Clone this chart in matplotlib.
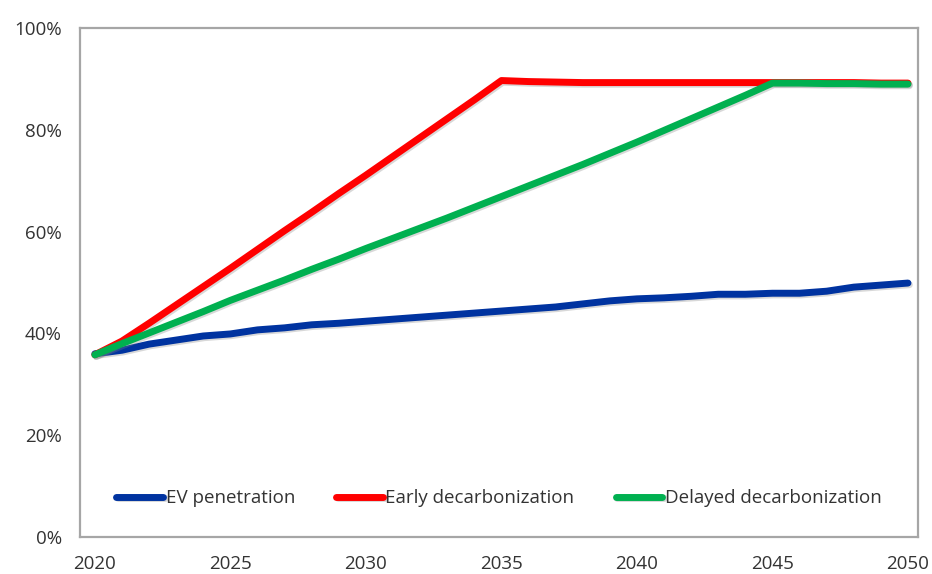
import numpy as np
import matplotlib
matplotlib.use('Agg')
import matplotlib.pyplot as plt
import matplotlib.patheffects as pe
from matplotlib.ticker import PercentFormatter

plt.rcParams['font.family'] = ['Open Sans', 'DejaVu Sans']

# Годы и доли по сценариям (%)
years = np.arange(2020, 2051)
ev_penetration = [36.0, 36.7, 37.9, 38.7, 39.5, 39.9, 40.7, 41.1, 41.7, 42.0,
                  42.4, 42.8, 43.2, 43.6, 44.0, 44.4, 44.8, 45.2, 45.8, 46.4,
                  46.8, 47.0, 47.3, 47.7, 47.7, 47.9, 47.9, 48.3, 49.1, 49.5,
                  49.9]
early_decarb = [35.8, 38.5, 42.0, 45.6, 49.2, 52.8, 56.5, 60.2, 63.8, 67.5,
                71.1, 74.8, 78.5, 82.2, 85.9, 89.7, 89.5, 89.4, 89.3, 89.3,
                89.3, 89.3, 89.3, 89.3, 89.3, 89.3, 89.3, 89.3, 89.3, 89.2,
                89.2]
delayed_decarb = [35.8, 38.0, 40.1, 42.2, 44.3, 46.5, 48.5, 50.5, 52.6, 54.6,
                  56.7, 58.7, 60.7, 62.7, 64.8, 66.9, 69.0, 71.1, 73.2, 75.4,
                  77.6, 79.9, 82.2, 84.5, 86.8, 89.2, 89.2, 89.1, 89.1, 89.0,
                  89.0]

series = [
    (ev_penetration, 'EV penetration', '#0033A0'),
    (early_decarb, 'Early decarbonization', '#FF0000'),
    (delayed_decarb, 'Delayed decarbonization', '#00B050'),
]

fig = plt.figure(figsize=(9.32, 5.74), dpi=100)
ax = fig.add_axes([0.0858, 0.0645, 0.8992, 0.8865])

shadow = [pe.SimpleLineShadow(offset=(1.0, -1.2), alpha=0.3, shadow_color='gray'),
          pe.Normal()]
for vals, name, color in series:
    ax.plot(years, vals, color=color, lw=5.0, label=name,
            solid_capstyle='round', solid_joinstyle='round', path_effects=shadow)

ax.set_xlim(2019.45, 2050.37)
ax.set_ylim(0, 100)
ax.set_xticks(np.arange(2020, 2051, 5))
ax.set_yticks(np.arange(0, 101, 20))
ax.yaxis.set_major_formatter(PercentFormatter(decimals=0))
ax.tick_params(length=0, labelsize=13.5, labelcolor='#333333')
ax.tick_params(axis='y', pad=13)
ax.tick_params(axis='x', pad=13)

for s in ax.spines.values():
    s.set_color('#A6A6A6')
    s.set_linewidth(1.6)

leg = ax.legend(loc='lower center', bbox_to_anchor=(0.5, 0.025), ncol=3,
                frameon=False, fontsize=13.5, handlelength=2.5,
                handletextpad=0.12, columnspacing=2.2)
for t in leg.get_texts():
    t.set_color('#333333')

fig.savefig('out.png', dpi=100)
